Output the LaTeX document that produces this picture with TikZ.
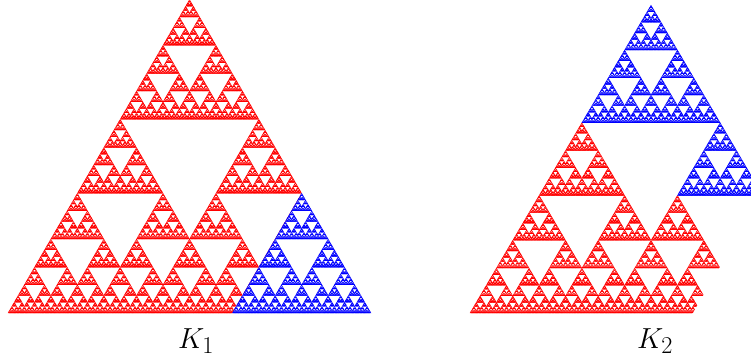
\documentclass[tikz,border=0pt]{standalone}
% golden gasket: f1 = ratio 1/phi at A, f2 = ratio 1/phi^2 at C, f3 = ratio 1/phi at B
% (exact overlap f3 f1 f1 = f1 f3 f3 is pruned through the state argument)
\def\trieps{2.6pt}
\def\trileaf#1#2#3{%
  \pgfpathmoveto{\pgfqpoint{\dimexpr#1-0.25pt\relax}{\dimexpr#2-0.15pt\relax}}%
  \pgfpathlineto{\pgfqpoint{\dimexpr#1+#3+0.25pt\relax}{\dimexpr#2-0.15pt\relax}}%
  \pgfpathlineto{\pgfqpoint{\dimexpr#1+#3/2\relax}{\dimexpr#2+#3*866025/1000000+0.28pt\relax}}%
  \pgfpathclose\pgfusepathqfill}
\def\tri#1#2#3#4{%
  \ifdim#3<\trieps\relax
    \def\trinext{\trileaf{#1}{#2}{#3}}%
  \else
    \edef\trinext{%
      \ifnum#4=2 \else\noexpand\tri{#1}{#2}{\the\dimexpr#3*618034/1000000\relax}{\ifnum#4=1 2\else0\fi}\fi
      \noexpand\tri{\the\dimexpr#1+#3*309017/1000000\relax}{\the\dimexpr#2+#3*535233/1000000\relax}{\the\dimexpr#3*381966/1000000\relax}{0}%
      \noexpand\tri{\the\dimexpr#1+#3*381966/1000000\relax}{#2}{\the\dimexpr#3*618034/1000000\relax}{1}}%
  \fi
  \trinext}
\tikzset{lbl/.style={anchor=base,font=\Huge,scale=1.166,transform shape}}
\begin{document}
\begin{tikzpicture}[x=1pt,y=1pt]
\useasboundingbox (0,0) rectangle (751,360);
\clip (0,0) rectangle (751,360);
% K1
\begin{scope}[shift={(8,47)},yscale=0.997]
  \begin{scope}
    \clip (-10,-5) -- (221.46,-5) -- (414.88,330) -- (-10,330) -- cycle;
    \pgfsetfillcolor{red}
    \tri{0pt}{0pt}{363pt}{0}
  \end{scope}
  \begin{scope}
    \pgfsetfillcolor{blue}
    \tri{224.346pt}{0pt}{138.654pt}{0}
  \end{scope}
\end{scope}
% K2
\begin{scope}[shift={(470,47)},yscale=0.982]
  \begin{scope}
    \clip (-10,-5) -- (219.84,-5) -- (413.26,330) -- (-10,330) -- cycle;
    \pgfsetfillcolor{red}
    \tri{0pt}{0pt}{223.728pt}{0}
    \tri{138.272pt}{0pt}{138.272pt}{2}
  \end{scope}
  \begin{scope}
    \pgfsetfillcolor{blue}
    \tri{111.864pt}{193.754pt}{138.272pt}{0}
    \tri{207.408pt}{119.747pt}{85.457pt}{0}
  \end{scope}
\end{scope}
\node[lbl] (k1) at (196,12) {$K_1$};
\node[lbl] (k2) at (655,12) {$K_2$};
\end{tikzpicture}
\end{document}
